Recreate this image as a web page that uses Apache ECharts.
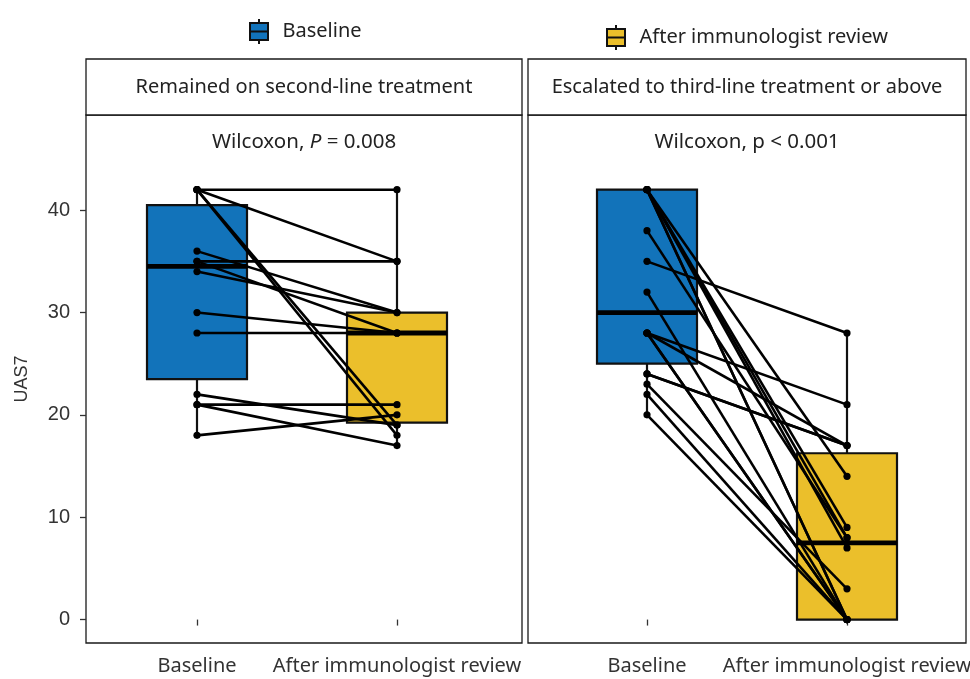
<!DOCTYPE html>
<html>
<head>
<meta charset="utf-8">
<script src="https://cdn.jsdelivr.net/npm/echarts@6/dist/echarts.min.js"></script>
<style>
  html, body { margin: 0; padding: 0; background: #fff; }
  #chart { width: 970px; height: 679px; }
</style>
</head>
<body>
<div id="chart"></div>
<script>
const groups = ['Baseline', 'After immunologist review']
const panels = ['Remained on second-line treatment', 'Escalated to third-line treatment or above']
const pLabels = ['Wilcoxon, {i|P} = 0.008', 'Wilcoxon, p < 0.001']
const yTicks = [0, 10, 20, 30, 40]
const xTicks = [1, 2]

// paired UAS7 scores, same patient at same index
const remainedBaseline = [42, 42, 42, 42, 36, 35, 35, 34, 30, 28, 22, 21, 21, 18]
const remainedAfter = [42, 35, 19, 18, 30, 35, 28, 30, 28, 28, 19, 21, 17, 20]
const escalatedBaseline = [42, 42, 42, 42, 42, 42, 38, 35, 32, 28, 28, 28, 28, 24, 24, 23, 22, 20]
const escalatedAfter = [14, 9, 8, 7, 0, 0, 8, 28, 0, 21, 17, 0, 0, 17, 17, 3, 0, 0]

const colors = ['#1273BA', '#EBBF2B']
const fontUI = '"Noto Sans", "Open Sans", sans-serif'
const fontAxis = '"Liberation Sans", Arial, sans-serif'

// quantile, R type 7
const quantile = (arr, p) => {
  const s = [...arr].sort((a, b) => a - b)
  const h = (s.length - 1) * p
  const lo = Math.floor(h)
  return s[lo] + (h - lo) * ((s[lo + 1] ?? s[lo]) - s[lo])
}
const boxStats = (arr) => {
  const q1 = quantile(arr, 0.25)
  const med = quantile(arr, 0.5)
  const q3 = quantile(arr, 0.75)
  const iqr = q3 - q1
  const inside = arr.filter((v) => v >= q1 - 1.5 * iqr && v <= q3 + 1.5 * iqr)
  return [Math.min(...inside), q1, med, q3, Math.max(...inside)]
}

const renderBox = (params, api) => {
  const x = api.value(0)
  const half = api.size([0.25, 0])[0]
  const c = api.coord([x, api.value(3)])
  const yMin = api.coord([x, api.value(1)])[1]
  const yQ1 = api.coord([x, api.value(2)])[1]
  const yQ3 = api.coord([x, api.value(4)])[1]
  const yMax = api.coord([x, api.value(5)])[1]
  const stroke = { stroke: '#111', lineWidth: 2.2 }
  return {
    type: 'group',
    children: [
      { type: 'line', shape: { x1: c[0], y1: yMax, x2: c[0], y2: yQ3 }, style: stroke },
      { type: 'line', shape: { x1: c[0], y1: yQ1, x2: c[0], y2: yMin }, style: stroke },
      {
        type: 'rect',
        shape: { x: c[0] - half, y: yQ3, width: half * 2, height: yQ1 - yQ3 },
        style: { fill: api.visual('color'), stroke: '#111', lineWidth: 2.2 }
      },
      { type: 'line', shape: { x1: c[0] - half, y1: c[1], x2: c[0] + half, y2: c[1] }, style: { stroke: '#000', lineWidth: 4.8 } }
    ]
  }
}

const renderPair = (params, api) => {
  const p1 = api.coord([1, api.value(1)])
  const p2 = api.coord([2, api.value(2)])
  return {
    type: 'group',
    children: [
      { type: 'line', shape: { x1: p1[0], y1: p1[1], x2: p2[0], y2: p2[1] }, style: { stroke: '#000', lineWidth: 2.6 } },
      { type: 'circle', shape: { cx: p1[0], cy: p1[1], r: 3.6 }, style: { fill: '#000' } },
      { type: 'circle', shape: { cx: p2[0], cy: p2[1], r: 3.6 }, style: { fill: '#000' } }
    ]
  }
}

const panelData = [
  [remainedBaseline, remainedAfter],
  [escalatedBaseline, escalatedAfter]
]

const series = []
panelData.forEach(([base, after], pi) => {
  ;[base, after].forEach((vals, gi) => {
    series.push({
      name: groups[gi],
      type: 'custom',
      xAxisIndex: pi,
      yAxisIndex: pi,
      renderItem: renderBox,
      itemStyle: { color: colors[gi] },
      encode: { x: 0, y: [1, 2, 3, 4, 5] },
      data: [[xTicks[gi], ...boxStats(vals)]],
      z: 2
    })
  })
  series.push({
    name: 'pairs' + pi,
    type: 'custom',
    xAxisIndex: pi,
    yAxisIndex: pi,
    renderItem: renderPair,
    encode: { x: 0, y: [1, 2] },
    data: base.map((b, i) => [xTicks[0], b, after[i]]),
    z: 3
  })
})

const legendIcon = 'path://M11,0 L11,4 M2,4 L20,4 L20,21 L2,21 Z M2,12.5 L20,12.5 M11,21 L11,25'
const makeLegend = (name, left, top) => ({
  data: [name],
  left,
  top,
  icon: legendIcon,
  itemWidth: 23,
  itemHeight: 25,
  itemStyle: { borderColor: '#111', borderWidth: 2 },
  textStyle: { fontFamily: fontUI, fontSize: 20, color: '#222', padding: [0, 0, 0, 7] },
  selectedMode: false
})

const grids = [
  { left: 86, right: 448, top: 115, bottom: 36 },
  { left: 528, right: 4, top: 115, bottom: 36 }
]
const xRanges = [[0.445, 2.625], [0.405, 2.595]]

const option = {
  animation: false,
  backgroundColor: '#fff',
  legend: [makeLegend(groups[0], 244, 13), makeLegend(groups[1], 601, 19)],
  grid: grids.map((g) => ({
    ...g,
    outerBoundsMode: 'none',
    containLabel: false,
    show: true,
    borderColor: '#1a1a1a',
    borderWidth: 1.3
  })),
  xAxis: grids.map((g, i) => ({
    type: 'value',
    gridIndex: i,
    min: xRanges[i][0],
    max: xRanges[i][1],
    axisLine: { show: false },
    axisTick: { show: true, length: 6, customValues: xTicks, lineStyle: { color: '#333', width: 1.3 } },
    axisLabel: {
      customValues: xTicks,
      formatter: (v) => groups[Math.round(v) - 1],
      margin: 13,
      fontFamily: fontUI,
      fontSize: 20,
      color: '#333'
    },
    splitLine: { show: false }
  })),
  yAxis: grids.map((g, i) => ({
    type: 'value',
    gridIndex: i,
    min: -2.29,
    max: 49.3,
    name: i === 0 ? 'UAS7' : '',
    nameLocation: 'middle',
    nameRotate: 90,
    nameGap: 55,
    nameTextStyle: { fontFamily: fontAxis, fontSize: 18, color: '#333' },
    axisLine: { show: false },
    axisTick: { show: i === 0, length: 6, customValues: yTicks, lineStyle: { color: '#333', width: 1.3 } },
    axisLabel: { show: i === 0, customValues: yTicks, margin: 16, fontFamily: fontAxis, fontSize: 20, color: '#333' },
    splitLine: { show: false }
  })),
  graphic: grids.flatMap((g, i) => {
    const x = g.left
    const w = 970 - g.left - g.right
    return [
      {
        type: 'rect',
        shape: { x, y: 59, width: w, height: 56 },
        style: { fill: '#fff', stroke: '#1a1a1a', lineWidth: 1.3 }
      },
      {
        type: 'text',
        x: x + w / 2,
        y: 87,
        style: { text: panels[i], fontFamily: fontUI, fontSize: 20, fill: '#222', align: 'center', verticalAlign: 'middle' }
      },
      {
        type: 'text',
        x: x + w / 2,
        y: 142,
        style: {
          text: pLabels[i],
          fontFamily: fontUI,
          fontSize: 20.5,
          fill: '#222',
          align: 'center',
          verticalAlign: 'middle',
          rich: { i: { fontFamily: fontUI, fontSize: 20.5, fontStyle: 'italic', fill: '#222' } }
        }
      }
    ]
  }),
  series
}

const chart = echarts.init(document.getElementById('chart'))
chart.setOption(option)
window.addEventListener('resize', () => chart.resize())
</script>
</body>
</html>
